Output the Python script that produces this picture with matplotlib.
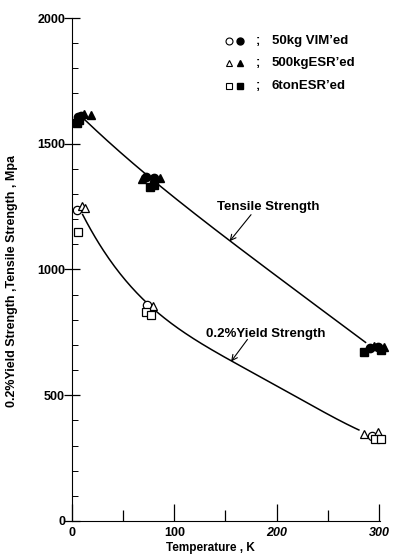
import matplotlib
matplotlib.use('Agg')
import matplotlib.pyplot as plt
import numpy as np

plt.rcParams['font.family'] = ['Liberation Sans', 'DejaVu Sans']
plt.rcParams['font.weight'] = 'bold'
plt.rcParams['axes.labelweight'] = 'bold'

# measured points (temperature K, strength MPa) for each melt
ts_vim_t = [6, 9, 72, 80, 291, 299]
ts_vim = [1605, 1612, 1366, 1363, 688, 690]
ts_esr500_t = [12, 19, 68, 86, 295, 305]
ts_esr500 = [1618, 1615, 1360, 1362, 697, 690]
ts_esr6t_t = [5, 7, 76, 80, 285, 302]
ts_esr6t = [1582, 1595, 1330, 1334, 672, 681]

ys_vim_t = [5, 73, 293]
ys_vim = [1235, 860, 336]
ys_esr500_t = [10, 13, 79, 285, 299]
ys_esr500 = [1253, 1244, 855, 346, 355]
ys_esr6t_t = [6, 72, 77, 296, 302]
ys_esr6t = [1151, 829, 820, 325, 325]

# hand drawn trend lines through the data
ts_curve_t = [12.7, 40, 67.8, 92, 105, 124.6, 155.5, 190, 220, 255, 286.9]
ts_curve = [1596, 1490, 1390, 1317, 1277, 1200, 1111, 1005, 910, 810, 709]
ys_curve_t = [10.4, 30.4, 49.8, 67.7, 83.8, 105, 124.6, 153.8, 172.8, 202.5, 240, 280.4]
ys_curve = [1218, 1078, 972, 886, 826, 765, 712, 640, 596, 534, 446, 362]

legend_labels = ['50kg VIM\u2019ed', '500kgESR\u2019ed', '6tonESR\u2019ed']
legend_markers = ['o', '^', 's']

fig = plt.figure(figsize=(3.94, 5.54), dpi=100)
ax = fig.add_axes([0.1827, 0.0596, 0.7817, 0.9079])


def smooth(t, v, deg=4):
    coef = np.polyfit(t, v, deg)
    tt = np.linspace(min(t), max(t), 200)
    return tt, np.polyval(coef, tt)


tt, vv = smooth(ts_curve_t, ts_curve)
ax.plot(tt, vv, color='black', lw=1.1)
tt, vv = smooth(ys_curve_t, ys_curve)
ax.plot(tt, vv, color='black', lw=1.1)

ms = 6
for t, v, m in [(ts_vim_t, ts_vim, 'o'), (ts_esr500_t, ts_esr500, '^'),
                (ts_esr6t_t, ts_esr6t, 's')]:
    ax.plot(t, v, m, color='black', ms=ms, ls='none', clip_on=False, zorder=3)
for t, v, m in [(ys_vim_t, ys_vim, 'o'), (ys_esr500_t, ys_esr500, '^'),
                (ys_esr6t_t, ys_esr6t, 's')]:
    ax.plot(t, v, m, mfc='white', mec='black', mew=0.9, ms=ms, ls='none',
            clip_on=False, zorder=3)

# key in the upper right corner
for i, (lab, m) in enumerate(zip(legend_labels, legend_markers)):
    y = 1910 - i * 90
    ax.plot(153, y, m, mfc='white', mec='black', mew=0.8, ms=5, clip_on=False)
    ax.plot(164, y, m, color='black', ms=5, clip_on=False)
    ax.text(182, y, ';', fontsize=9, ha='center', va='center')
    ax.text(195, y, lab, fontsize=9.5, ha='left', va='center')

# curve labels with pointer arrows
arrow = dict(arrowstyle='->', color='black', lw=0.8, shrinkA=0, shrinkB=0)
ax.text(192, 1250, 'Tensile Strength', fontsize=9.5, ha='center', va='center')
ax.annotate('', xy=(154, 1112), xytext=(175, 1218), arrowprops=arrow)
ax.text(189.5, 745, '0.2%Yield Strength', fontsize=9.5, ha='center', va='center')
ax.annotate('', xy=(155.5, 634), xytext=(171.5, 722), arrowprops=arrow)

ax.set_xlim(0, 301)
ax.set_ylim(0, 2000)
ax.spines['top'].set_visible(False)
ax.spines['right'].set_visible(False)
ax.spines['left'].set_bounds(0, 2000)

ax.set_xticks([0, 100, 200, 300])
ax.set_xticks([50, 150, 250], minor=True)
ax.set_xticklabels(['0', '100', '200', '300'])
for lbl in ax.get_xticklabels()[2:]:
    lbl.set_style('italic')
ax.set_yticks([0, 500, 1000, 1500, 2000])
ax.set_yticks(np.arange(100, 2000, 100), minor=True)
ax.tick_params(axis='x', which='major', direction='in', length=12, width=0.9,
               labelsize=9, pad=4)
ax.tick_params(axis='x', which='minor', direction='in', length=8, width=0.9)
ax.tick_params(axis='y', which='major', direction='inout', length=12, width=0.9,
               labelsize=9, pad=-1)
ax.tick_params(axis='y', which='minor', direction='in', length=4, width=0.7)

ax.set_xlabel('Temperature , K', fontsize=8.5)
ax.xaxis.set_label_coords(0.451, -0.042)
ax.set_ylabel('0.2%Yield Strength ,Tensile Strength , Mpa', fontsize=9)
ax.yaxis.set_label_coords(-0.175, 0.477)

fig.savefig('out.png', dpi=100)
